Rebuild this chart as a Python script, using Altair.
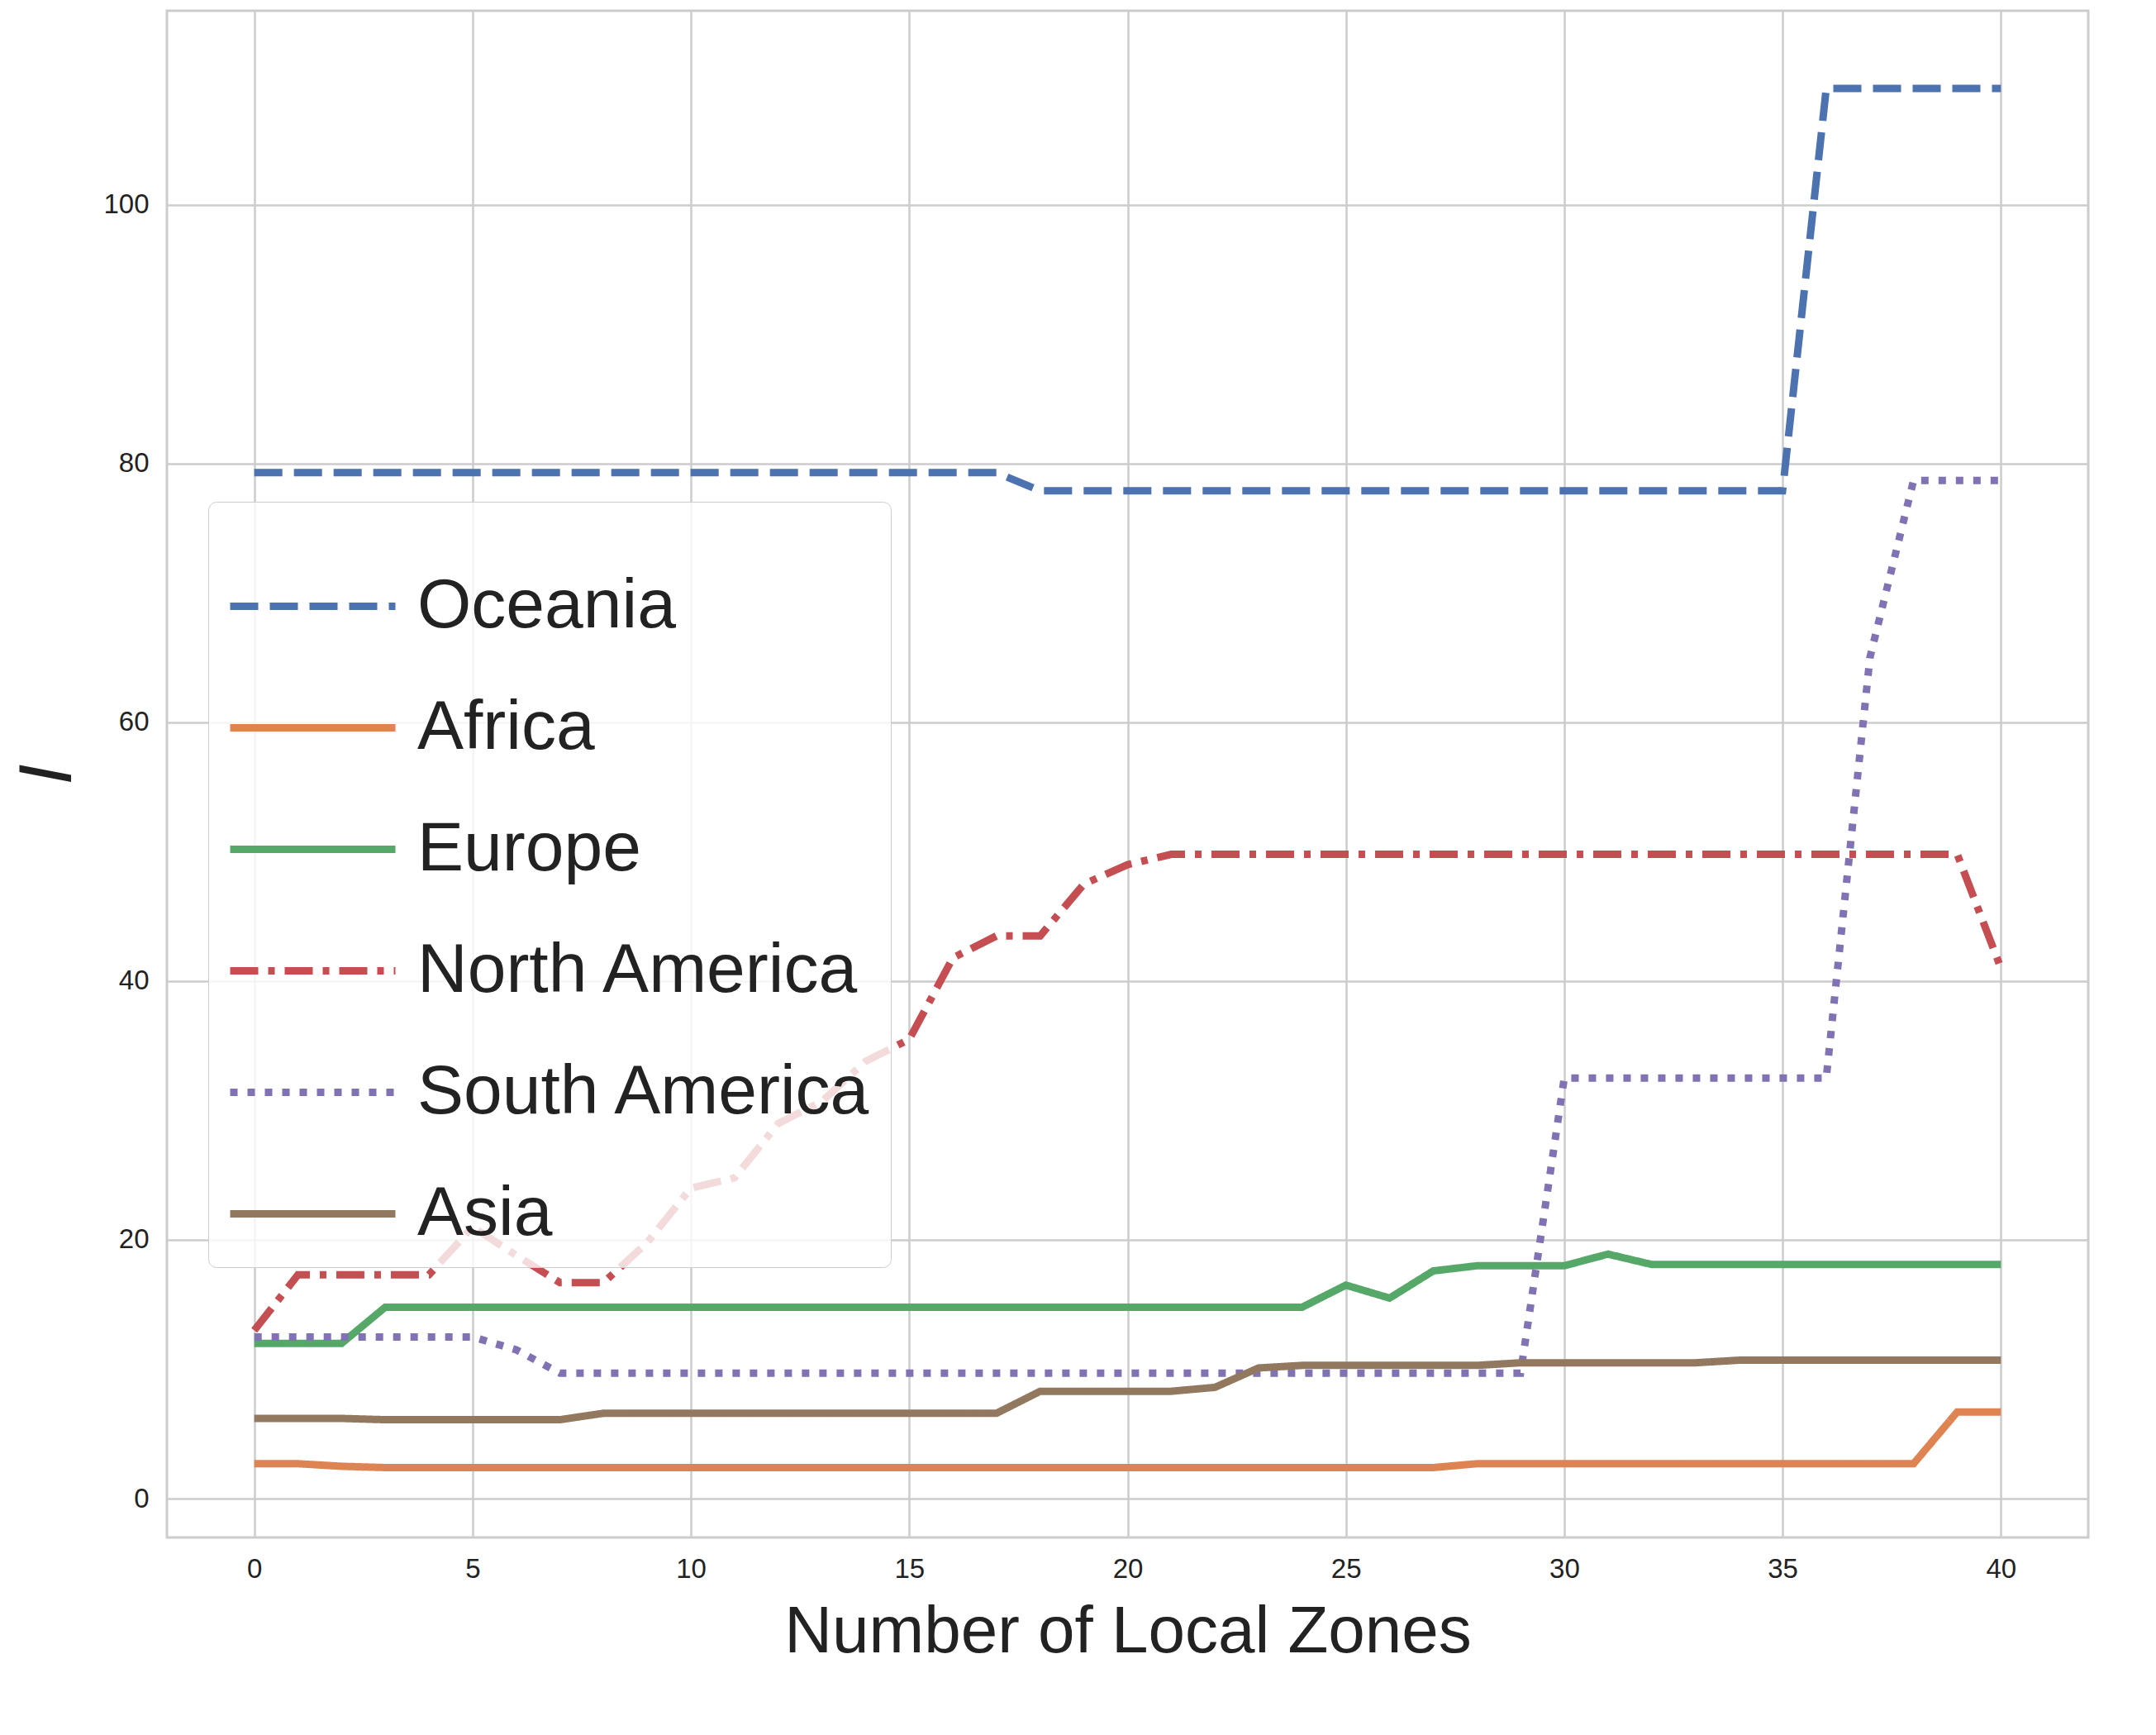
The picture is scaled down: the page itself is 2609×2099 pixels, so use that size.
import pandas as pd
import altair as alt

zones = list(range(41))

oceania = [79.3] * 18 + [77.9] * 18 + [109.0] * 5
africa = [2.7, 2.7, 2.5] + [2.4] * 25 + [2.7] * 11 + [6.7, 6.7]
europe = [12.0] * 3 + [14.8] * 22 + [16.5, 15.5, 17.6, 18.0, 18.0, 18.0, 18.9] + [18.1] * 9
north_america = [13.0, 17.3, 17.3, 17.3, 17.3, 21.0, 18.8, 16.7, 16.7, 19.8, 24.0, 24.8,
                 29.0, 30.7, 33.8, 35.5, 41.8, 43.5, 43.5, 47.5, 49.0] + [49.8] * 19 + [41.0]
south_america = [12.5] * 6 + [11.5] + [9.7] * 23 + [32.5] * 7 + [65.0, 78.7, 78.7, 78.7]
asia = [6.2] * 3 + [6.1] * 5 + [6.6] * 10 + [8.3] * 4 + [8.6, 10.1] + [10.3] * 5 + [10.5] * 5 + [10.7] * 7

regions = ["Oceania", "Africa", "Europe", "North America", "South America", "Asia"]
colors = ["#4c72b0", "#dd8452", "#55a868", "#c44e52", "#8172b3", "#937860"]
dashes = [[34, 14], [1, 0], [1, 0], [34, 12, 8, 12], [9, 12], [1, 0]]
series = [oceania, africa, europe, north_america, south_america, asia]

rows = []
for name, vals in zip(regions, series):
    for x, v in zip(zones, vals):
        rows.append({"zones": x, "I": v, "region": name})
df = pd.DataFrame(rows)

font = "Liberation Sans"

chart = alt.Chart(df).mark_line(strokeWidth=9, strokeCap="butt").encode(
    x=alt.X("zones:Q", title="Number of Local Zones",
            scale=alt.Scale(domain=[-2, 42], nice=False, zero=False),
            axis=alt.Axis(values=[0, 5, 10, 15, 20, 25, 30, 35, 40])),
    y=alt.Y("I:Q", title="I",
            scale=alt.Scale(domain=[-3, 115], nice=False, zero=False),
            axis=alt.Axis(values=[0, 20, 40, 60, 80, 100])),
    color=alt.Color("region:N", sort=regions,
                    scale=alt.Scale(domain=regions, range=colors),
                    legend=alt.Legend(title=None, orient="none", legendX=50, legendY=594,
                                      symbolType="stroke", symbolSize=40000,
                                      symbolStrokeWidth=9, labelFontSize=84,
                                      labelFont=font, labelColor="#222222", labelLimit=0,
                                      rowPadding=-103, padding=22, labelOffset=22,
                                      fillColor="rgba(255,255,255,0.8)",
                                      strokeColor="#cccccc", cornerRadius=10)),
    strokeDash=alt.StrokeDash("region:N", sort=regions,
                              scale=alt.Scale(domain=regions, range=dashes),
                              legend=None),
).properties(
    width=2325, height=1847, background="white"
).configure_axis(
    grid=True, gridColor="#cccccc", gridWidth=2.5,
    domain=False, ticks=False,
    labelFont=font, labelFontSize=33, labelColor="#222222", labelPadding=22,
    titleFont=font, titleFontSize=80, titleFontWeight="normal", titleColor="#222222",
    titlePadding=20
).configure_axisY(
    titleFontStyle="italic", titleFontSize=90
).configure_view(
    stroke="#cccccc", strokeWidth=3
)

chart.save("out.html", embed_options={"renderer": "svg", "actions": False})
